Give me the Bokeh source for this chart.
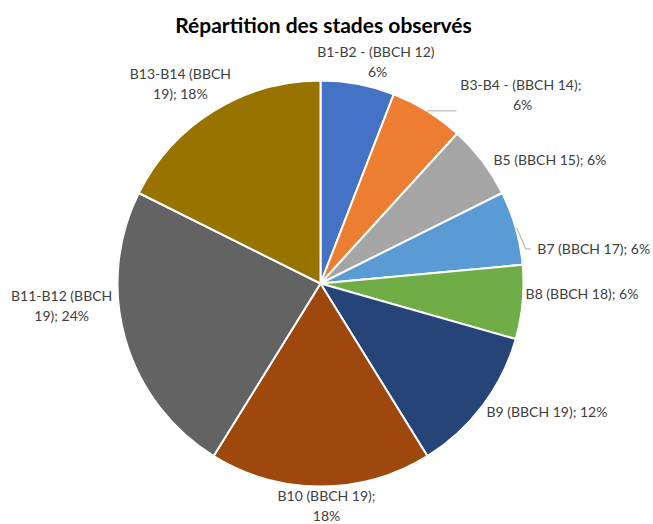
import numpy as np
from bokeh.plotting import figure
from bokeh.models import Range1d
from bokeh.core.properties import value
from bokeh.embed import file_html
from bokeh.resources import INLINE

# ---------------- data ----------------
title_text = "Répartition des stades observés"
stages = ["B1-B2", "B3-B4", "B5", "B7", "B8", "B9", "B10", "B11-B12", "B13-B14"]
counts = [1, 1, 1, 1, 1, 2, 3, 4, 3]
label_texts = [
    "B1-B2 -  (BBCH 12)\n6%",
    "B3-B4 -  (BBCH 14);\n6%",
    "B5 (BBCH 15); 6%",
    "B7 (BBCH 17); 6%",
    "B8 (BBCH 18); 6%",
    "B9 (BBCH 19); 12%",
    "B10 (BBCH 19);\n18%",
    "B11-B12 (BBCH\n19); 24%",
    "B13-B14 (BBCH\n19); 18%",
]
colors = ["#4472C4", "#ED7D31", "#A5A5A5", "#5B9BD5", "#70AD47",
          "#264478", "#9E480E", "#636363", "#997300"]

# ---------------- layout ----------------
W, H = 653, 524
CX, CY = 320, H - 283      # pie centre (data units = pixels)
R = 203
GAP = 10
LINE = 20
# per-label: (align, dx, dy) screen-pixel nudge from the radial anchor point
label_layout = [
    ("center", 18, -13),
    ("center", 90, -8),
    ("left", 3, 4),
    ("left", 12, 23),
    ("left", -7, -10),
    ("left", -4, 0),
    ("center", 6, 9),
    ("center", -54, -36),
    ("center", -28, -19),
]

vals = np.array(counts, dtype=float)
frac = vals / vals.sum()
cum_end = np.cumsum(frac)
cum_start = cum_end - frac
start_angles = np.pi / 2 - 2 * np.pi * cum_start
end_angles = np.pi / 2 - 2 * np.pi * cum_end
mid = 2 * np.pi * (cum_start + cum_end) / 2   # clockwise from top

p = figure(width=W, height=H, output_backend="svg", toolbar_location=None,
           x_range=Range1d(0, W), y_range=Range1d(0, H),
           x_axis_type=None, y_axis_type=None, min_border=0)
p.grid.visible = False
p.outline_line_color = None
p.background_fill_color = "white"

p.wedge(x=CX, y=CY, radius=R, start_angle=start_angles, end_angle=end_angles,
        direction="clock", fill_color=colors, line_color="white", line_width=2)

FONT = "Lato"
for i, txt in enumerate(label_texts):
    align, dx, dy = label_layout[i]
    ax = CX + (R + GAP) * np.sin(mid[i]) + dx
    ay = CY + (R + GAP) * np.cos(mid[i]) - dy
    lines = txt.split("\n")
    n = len(lines)
    ys = [ay + (n - 1) * LINE / 2 - k * LINE for k in range(n)]
    p.text(x=[ax] * n, y=ys, text=lines, text_align=align, text_baseline="middle",
           text_font=value(FONT), text_font_size="14px", text_color="#404040")

# leader lines for B3-B4 and B7
ex1 = CX + R * np.sin(mid[1]); ey1 = CY + R * np.cos(mid[1])
p.line(x=[ex1, ex1 + 29], y=[ey1, ey1], line_color="#A6A6A6", line_width=1)
ex3 = CX + R * np.sin(mid[3]); ey3 = CY + R * np.cos(mid[3])
p.line(x=[ex3 + 1, ex3 + 10, ex3 + 15], y=[ey3, ey3 - 21, ey3 - 21],
       line_color="#A6A6A6", line_width=1)

p.text(x=[323], y=[H - 24], text=[title_text], text_align="center",
       text_baseline="middle", text_font=value(FONT), text_font_size="21px",
       text_font_style="bold", text_color="#000000")

open("out.html", "w").write(file_html(p, INLINE))
